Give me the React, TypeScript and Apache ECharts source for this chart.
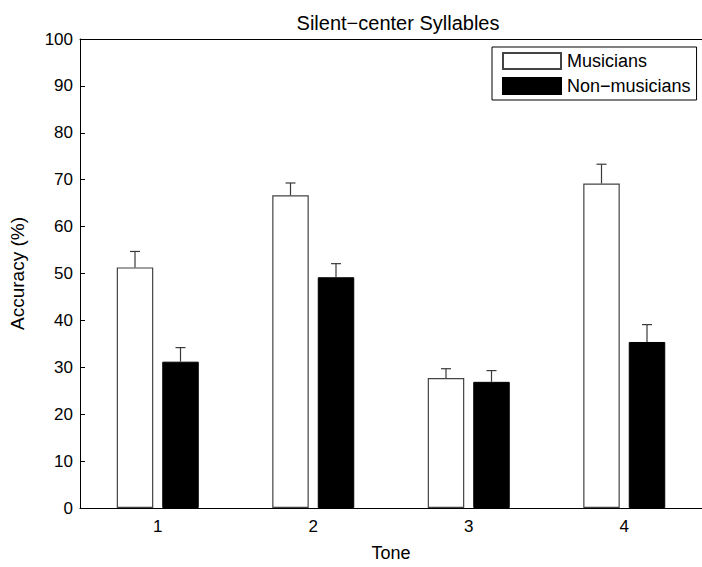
import React, { useEffect, useRef } from "react";
import * as echarts from "echarts";

const categories = ["1", "2", "3", "4"];
const musicians = [51.3, 66.7, 27.7, 69.2];
const musiciansErr = [3.4, 2.6, 2.0, 4.1];
const nonMusicians = [31.2, 49.2, 26.9, 35.4];
const nonMusiciansErr = [3.0, 2.9, 2.4, 3.7];
const yTicks = { min: 0, max: 100, interval: 10 };

const FONT = "Liberation Sans, Arial, Helvetica, sans-serif";
const BAR_W = 36.5;
const GAP = 9;
const OFFSET = (BAR_W + GAP) / 2;

function errorSeries(name: string, vals: number[], errs: number[], off: number) {
  return {
    type: "custom",
    name: name + "-err",
    xAxisIndex: 0,
    yAxisIndex: 0,
    z: 5,
    silent: true,
    encode: { x: 0, y: 1 },
    data: vals.map((v, i) => [i, v, errs[i]]),
    renderItem: (params: any, api: any) => {
      const i = api.value(0);
      const v = api.value(1);
      const e = api.value(2);
      const base = api.coord([i, v]);
      const top = api.coord([i, v + e]);
      const x = base[0] + off;
      const style = { stroke: "#3a3a3a", lineWidth: 1.2 };
      return {
        type: "group",
        children: [
          { type: "line", shape: { x1: x, y1: base[1], x2: x, y2: top[1] }, style },
          { type: "line", shape: { x1: x - 5, y1: top[1], x2: x + 5, y2: top[1] }, style },
        ],
      };
    },
  };
}

export default function App() {
  const ref = useRef<HTMLDivElement>(null);
  useEffect(() => {
    document.body.style.margin = "0";
    if (!ref.current) return;
    const chart = echarts.init(ref.current, null, { renderer: "svg" });
    chart.setOption({
      animation: false,
      backgroundColor: "#ffffff",
      textStyle: { fontFamily: FONT, color: "#000" },
      title: {
        text: "Silent\u2212center Syllables",
        left: 393,
        textAlign: "center",
        top: 8,
        textStyle: { fontFamily: FONT, fontSize: 20, fontWeight: "normal", color: "#000" },
      },
      legend: {
        orient: "vertical",
        left: 492,
        top: 47,
        itemWidth: 58,
        itemHeight: 16,
        itemGap: 7,
        padding: [5, 6, 5, 10],
        borderColor: "#000",
        borderWidth: 1,
        backgroundColor: "#fff",
        textStyle: { fontFamily: FONT, fontSize: 18, color: "#000", padding: [0, 0, 0, 1] },
        data: [
          { name: "Musicians", icon: "rect" },
          { name: "Non\u2212musicians", icon: "rect" },
        ],
      },
      grid: { left: 76, top: 39, width: 634, height: 474 },
      xAxis: [
        {
          type: "category",
          data: categories,
          position: "bottom",
          name: "Tone",
          nameLocation: "middle",
          nameGap: 36,
          nameTextStyle: { fontFamily: FONT, fontSize: 18, color: "#000" },
          axisLine: { lineStyle: { color: "#000", width: 1 } },
          axisTick: { inside: true, alignWithLabel: true, length: 5, lineStyle: { color: "#000" } },
          axisLabel: { fontFamily: FONT, fontSize: 17, color: "#000", margin: 10 },
          splitLine: { show: false },
        },
        {
          type: "category",
          data: categories,
          position: "top",
          axisLine: { lineStyle: { color: "#000", width: 1 } },
          axisTick: { inside: true, alignWithLabel: true, length: 5, lineStyle: { color: "#000" } },
          axisLabel: { show: false },
          splitLine: { show: false },
        },
      ],
      yAxis: {
        type: "value",
        min: yTicks.min,
        max: yTicks.max,
        interval: yTicks.interval,
        name: "Accuracy (%)",
        nameLocation: "middle",
        nameGap: 53,
        nameTextStyle: { fontFamily: FONT, fontSize: 19, color: "#000" },
        axisLine: { show: true, lineStyle: { color: "#000", width: 1 } },
        axisTick: { show: true, inside: true, length: 5, lineStyle: { color: "#000" } },
        axisLabel: { fontFamily: FONT, fontSize: 17, color: "#000", margin: 7 },
        splitLine: { show: false },
      },
      series: [
        {
          type: "bar",
          name: "Musicians",
          data: musicians,
          barWidth: BAR_W,
          barGap: (GAP / BAR_W) * 100 + "%",
          itemStyle: { color: "#ffffff", borderColor: "#444", borderWidth: 1.2 },
        },
        {
          type: "bar",
          name: "Non\u2212musicians",
          data: nonMusicians,
          barWidth: BAR_W,
          barGap: (GAP / BAR_W) * 100 + "%",
          itemStyle: { color: "#000000", borderColor: "#000", borderWidth: 1 },
        },
        errorSeries("Musicians", musicians, musiciansErr, -OFFSET),
        errorSeries("Non\u2212musicians", nonMusicians, nonMusiciansErr, OFFSET),
      ],
    });
    return () => chart.dispose();
  }, []);
  return <div ref={ref} style={{ width: 702, height: 567 }} />;
}
